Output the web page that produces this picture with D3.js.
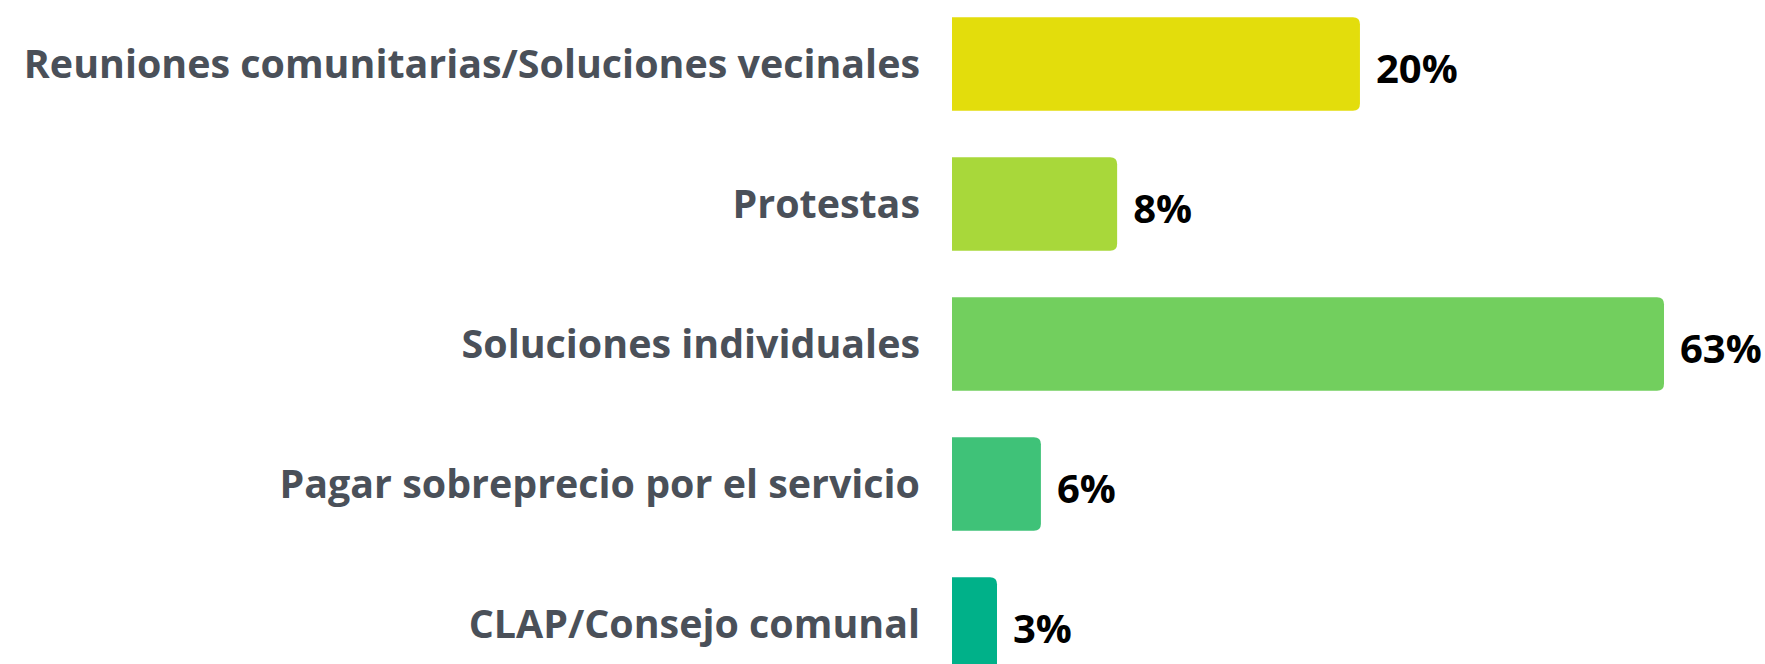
<!DOCTYPE html>
<html>
<head>
<meta charset="utf-8">
<script src="https://cdn.jsdelivr.net/npm/d3@7"></script>
<style>
  body { margin: 0; background: #fff; }
  svg { display: block; }
  text { font-family: "Open Sans", sans-serif; font-weight: 700; }
</style>
</head>
<body>
<div id="chart"></div>
<script>
const categories = [
  'Reuniones comunitarias/Soluciones vecinales',
  'Protestas',
  'Soluciones individuales',
  'Pagar sobreprecio por el servicio',
  'CLAP/Consejo comunal'
];
const values = [20, 8, 63, 6, 3];
const barColors = ['#e3dd0c', '#a8d83a', '#72cf5e', '#3fc278', '#00b189'];

const width = 1765;
const height = 664;
const barLeft = 952;
const maxBarWidth = 712;
const minBarWidth = 45;
const radius = 7;

const svg = d3.select('#chart')
              .append('svg')
              .attr('width', width)
              .attr('height', height);

const y = d3.scaleBand()
            .domain(categories)
            .range([-6, 694])
            .paddingInner(1 / 3)
            .paddingOuter(1 / 6);

// bars in the original grow roughly with the log of the share
const x = d3.scaleLog()
            .domain([4.29, 63])
            .range([0, maxBarWidth]);

const barWidth = v => Math.max(minBarWidth, x(v));

// rounded on the right side only
function barPath(x0, y0, w, h, r) {
  return `M${x0},${y0}H${x0 + w - r}Q${x0 + w},${y0} ${x0 + w},${y0 + r}` +
         `V${y0 + h - r}Q${x0 + w},${y0 + h} ${x0 + w - r},${y0 + h}H${x0}Z`;
}

svg.append('g')
   .selectAll('path')
   .data(values)
   .enter()
   .append('path')
   .attr('d', (d, i) => barPath(barLeft, y(categories[i]), barWidth(d), y.bandwidth(), radius))
   .attr('fill', (d, i) => barColors[i]);

svg.append('g')
   .selectAll('text')
   .data(categories)
   .enter()
   .append('text')
   .text(d => d)
   .attr('x', barLeft - 32)
   .attr('y', d => y(d) + y.bandwidth() / 2 + 14.3)
   .attr('text-anchor', 'end')
   .attr('font-size', 39.4)
   .attr('fill', '#4a5059');

svg.append('g')
   .selectAll('text')
   .data(values)
   .enter()
   .append('text')
   .text(d => d + '%')
   .attr('x', d => barLeft + barWidth(d) + 16)
   .attr('y', (d, i) => y(categories[i]) + y.bandwidth() / 2 + 18.5)
   .attr('font-size', 40)
   .attr('fill', '#000');
</script>
</body>
</html>
